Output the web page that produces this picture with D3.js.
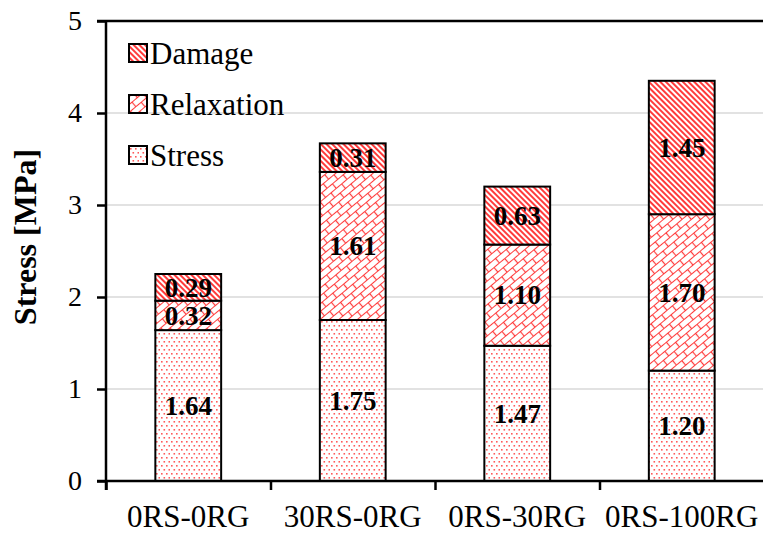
<!DOCTYPE html>
<meta charset="utf-8">
<head>
    <title>Stress components</title>
    <style>
        body { margin: 0; background: #fff; }
        text { font-family: "Liberation Serif", serif; }
    </style>
</head>
<body>
<div id="chart"></div>
<script src="https://d3js.org/d3.v7.min.js"></script>
<script>

    // data
    var categories = ["0RS-0RG", "30RS-0RG", "0RS-30RG", "0RS-100RG"];
    var stressVals = [1.64, 1.75, 1.47, 1.20];
    var relaxVals  = [0.32, 1.61, 1.10, 1.70];
    var damageVals = [0.29, 0.31, 0.63, 1.45];
    var seriesNames = ["Stress", "Relaxation", "Damage"];
    var yTicks = [0, 1, 2, 3, 4, 5];

    var W = 763, H = 533;
    var pLeft = 106, pRight = 764, pTop = 21, pBottom = 481;
    var serif = "Liberation Serif";

    var svg = d3.select("#chart").append("svg")
        .attr("width", W)
        .attr("height", H);

    // patterns
    var defs = svg.append("defs");
    var red = "#ff3b3b";

    var pDots = defs.append("pattern")
        .attr("id", "p-stress")
        .attr("patternUnits", "userSpaceOnUse")
        .attr("width", 10).attr("height", 8);
    pDots.append("rect").attr("width", 10).attr("height", 8).attr("fill", "#fff");
    [[1, 1], [6, 1], [3.5, 5], [8.5, 5]].forEach(function(p) {
        pDots.append("rect").attr("x", p[0]).attr("y", p[1])
            .attr("width", 1.6).attr("height", 1.6).attr("fill", "#ff5a5a");
    });

    var pStripe = defs.append("pattern")
        .attr("id", "p-damage")
        .attr("patternUnits", "userSpaceOnUse")
        .attr("width", 4).attr("height", 4)
        .attr("patternTransform", "rotate(-45)");
    pStripe.append("rect").attr("width", 4).attr("height", 4).attr("fill", "#fff");
    pStripe.append("rect").attr("width", 2).attr("height", 4).attr("fill", red);

    var pBrick = defs.append("pattern")
        .attr("id", "p-relax")
        .attr("patternUnits", "userSpaceOnUse")
        .attr("width", 14).attr("height", 12)
        .attr("patternTransform", "rotate(-40)");
    pBrick.append("rect").attr("width", 14).attr("height", 12).attr("fill", "#fff");
    pBrick.append("path")
        .attr("d", "M0,0.5H14M0,6.5H14M3.5,0.5V6.5M10.5,6.5V12.5")
        .attr("stroke", red).attr("stroke-width", 1.2).attr("fill", "none");

    var fills = {"Stress": "url(#p-stress)", "Relaxation": "url(#p-relax)", "Damage": "url(#p-damage)"};

    // scales
    var x = d3.scaleBand()
        .domain(categories)
        .range([pLeft, pRight])
        .paddingInner(0.6)
        .paddingOuter(0.3);

    var y = d3.scaleLinear()
        .domain([0, 5])
        .range([pBottom, pTop]);

    // grid
    svg.append("g")
        .selectAll("line")
        .data(yTicks.filter(function(d) { return d > 0 && d < 5; }))
        .enter().append("line")
        .attr("x1", pLeft).attr("x2", pRight)
        .attr("y1", function(d) { return y(d); })
        .attr("y2", function(d) { return y(d); })
        .attr("stroke", "#d9d9d9")
        .attr("stroke-width", 1.3);

    // stacked data
    var rows = categories.map(function(c, i) {
        return {cat: c, Stress: stressVals[i], Relaxation: relaxVals[i], Damage: damageVals[i]};
    });
    var stack = d3.stack().keys(seriesNames)(rows);

    var layers = svg.append("g").selectAll("g")
        .data(stack)
        .enter().append("g")
        .attr("fill", function(d) { return fills[d.key]; });

    layers.selectAll("rect")
        .data(function(d) { return d; })
        .enter().append("rect")
        .attr("x", function(d) { return x(d.data.cat); })
        .attr("y", function(d) { return y(d[1]); })
        .attr("width", x.bandwidth())
        .attr("height", function(d) { return y(d[0]) - y(d[1]); })
        .attr("stroke", "#000")
        .attr("stroke-width", 2);

    // value labels
    stack.forEach(function(layer) {
        svg.append("g").selectAll("text")
            .data(layer)
            .enter().append("text")
            .attr("x", function(d) { return x(d.data.cat) + x.bandwidth() / 2; })
            .attr("y", function(d) { return (y(d[0]) + y(d[1])) / 2; })
            .attr("dy", "0.34em")
            .attr("text-anchor", "middle")
            .style("font-family", serif)
            .style("font-weight", "bold")
            .style("font-size", "27px")
            .text(function(d) { return (d[1] - d[0]).toFixed(2); });
    });

    // y axis
    var yAxis = svg.append("g")
        .attr("transform", "translate(" + pLeft + ",0)")
        .call(d3.axisLeft(y).tickValues(yTicks).tickSize(9).tickPadding(15).tickFormat(d3.format("d")));
    yAxis.select(".domain").attr("stroke-width", 2.5).attr("d", "M0," + (pBottom + 9) + "V" + pTop);
    yAxis.selectAll(".tick line").attr("stroke-width", 2.5);
    yAxis.selectAll("text")
        .style("font-size", "28px")
        .style("font-family", serif)
        .attr("fill", "#000");

    // top border
    svg.append("line")
        .attr("x1", pLeft - 9).attr("x2", pRight)
        .attr("y1", pTop).attr("y2", pTop)
        .attr("stroke", "#000").attr("stroke-width", 2.5);

    // x axis: ticks at band edges, labels at centres
    var xEdges = d3.scaleLinear().domain([0, categories.length]).range([pLeft, pRight]);
    var xAxisTicks = svg.append("g")
        .attr("transform", "translate(0," + pBottom + ")")
        .call(d3.axisBottom(xEdges).tickValues([0, 1, 2, 3]).tickSize(9).tickFormat(""));
    xAxisTicks.select(".domain").attr("stroke-width", 2.5).attr("d", "M" + (pLeft - 9) + ",0H" + pRight);
    xAxisTicks.selectAll(".tick line").attr("stroke-width", 2.5);

    var xAxis = svg.append("g")
        .attr("transform", "translate(0," + pBottom + ")")
        .call(d3.axisBottom(x).tickSize(0));
    xAxis.select(".domain").remove();
    xAxis.selectAll("text")
        .attr("y", 46)
        .attr("dy", null)
        .style("font-size", "31px")
        .style("font-family", serif)
        .attr("fill", "#000");

    // y label
    svg.append("text")
        .attr("transform", "translate(25,237) rotate(-90)")
        .attr("text-anchor", "middle")
        .attr("dy", "0.35em")
        .style("font-family", serif)
        .style("font-weight", "bold")
        .style("font-size", "32px")
        .text("Stress [MPa]");

    // legend
    var legendRows = seriesNames.slice().reverse();
    var legend = svg.append("g").selectAll("g")
        .data(legendRows)
        .enter().append("g")
        .attr("transform", function(d, i) { return "translate(129," + (53 + i * 51) + ")"; });
    legend.append("rect")
        .attr("x", 0).attr("y", -9)
        .attr("width", 18).attr("height", 18)
        .attr("fill", function(d) { return fills[d]; })
        .attr("stroke", "#000")
        .attr("stroke-width", 2);
    legend.append("text")
        .attr("x", 21)
        .attr("dy", "0.34em")
        .style("font-family", serif)
        .style("font-size", "31px")
        .text(function(d) { return d; });

</script>
</body>
